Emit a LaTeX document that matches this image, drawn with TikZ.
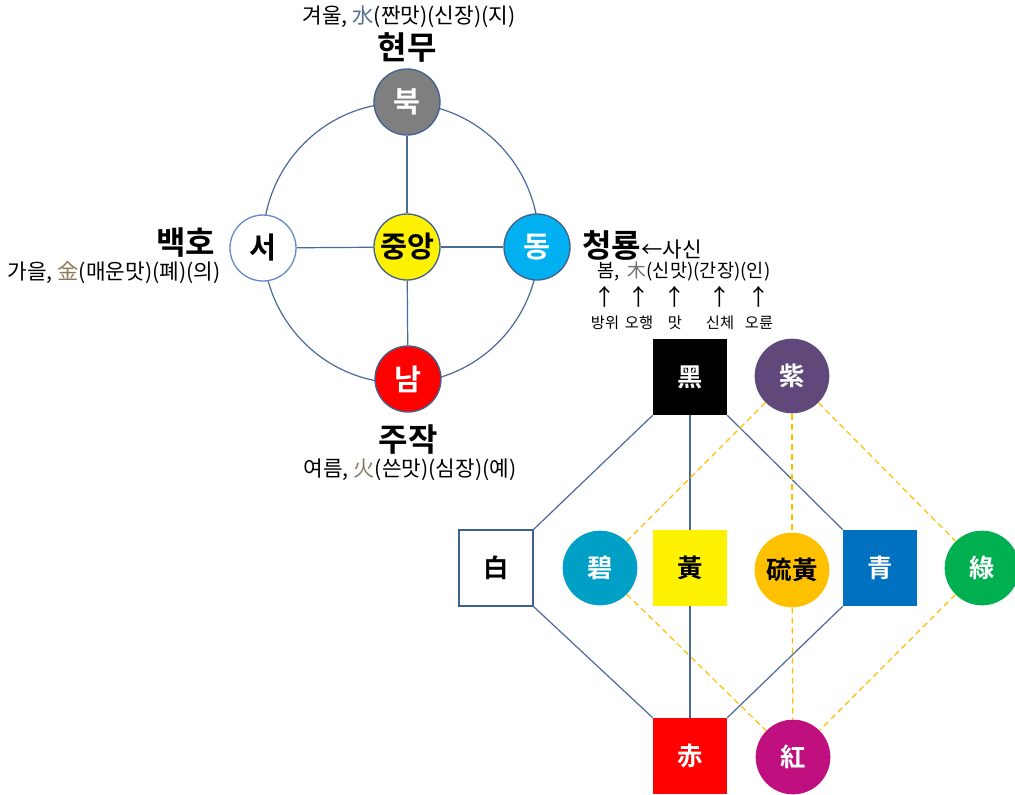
\documentclass[tikz,border=0pt]{standalone}
\usepackage{fontspec}
\setmainfont{Noto Sans CJK KR}[BoldFont={* Bold}]
\begin{document}
\begin{tikzpicture}[x=0.75pt,y=-0.75pt,
  conn/.style={draw=linec, line width=0.9pt},
  ydash/.style={draw=dashc, dashed, dash pattern=on 4.5pt off 3pt, line width=0.9pt},
  circ/.style={circle, minimum size=49.5pt, inner sep=0pt, draw=bordc, line width=1pt, font=\bfseries\fontsize{22}{22}\selectfont},
  lcirc/.style={circle, minimum size=56pt, inner sep=0pt, font=\bfseries\fontsize{19}{19}\selectfont},
  lsq/.style={rectangle, minimum width=55.5pt, minimum height=57pt, inner sep=0pt, font=\bfseries\fontsize{19}{19}\selectfont},
  big/.style={font=\bfseries\fontsize{24}{26}\selectfont},
  small/.style={font=\fontsize{16}{18}\selectfont, inner sep=0pt},
  tiny/.style={font=\fontsize{11.5}{13}\selectfont, inner sep=0pt}
]
\definecolor{linec}{HTML}{4A6A9A}
\definecolor{bordc}{HTML}{41628F}
\definecolor{dashc}{HTML}{FFC000}
\definecolor{cwater}{HTML}{5A7090}
\definecolor{cmetal}{HTML}{8A7A55}
\definecolor{cwood}{HTML}{707070}
\definecolor{cfire}{HTML}{8A7A6A}
\useasboundingbox (0,0) rectangle (1015,794);
% upper diagram
\draw[conn] (401,243) ellipse [x radius=138, y radius=140];
\node[circ, fill={rgb,255:red,127;green,127;blue,127}, text=white] (N) at (407,102) {북};
\node[circ, fill=yellow, text=black] (C) at (407,247) {중앙};
\node[circ, fill={rgb,255:red,0;green,176;blue,240}, text=white] (E) at (537,247) {동};
\node[circ, fill=red, text=white] (S) at (408,379) {남};
\node[circ, fill=white, text=black, draw={rgb,255:red,100;green,140;blue,200}] (W) at (263,248) {서};
\draw[conn] (N) -- (C);
\draw[conn] (C) -- (S);
\draw[conn] (W) -- (C);
\draw[conn] (C) -- (E);
% labels
\node[small] (tN) at (409,17) {겨울, \textcolor{cwater}{水}(짠맛)(신장)(지)};
\node[big] (nN) at (407,47) {현무};
\node[big, anchor=east] (nW) at (220,243) {백호};
\node[small] (tW) at (114,273) {가을, \textcolor{cmetal}{金}(매운맛)(폐)(의)};
\node[anchor=west, inner sep=0pt] (nE) at (582,245) {{\bfseries\fontsize{24}{26}\selectfont 청룡}{\fontsize{16}{18}\selectfont ←사신}};
\node[small, anchor=west, font=\fontsize{14}{16}\selectfont] (tE) at (597,271) {봄,\ \ \textcolor{cwood}{木}(신맛)(간장)(인)};
\foreach \x/\l [count=\i] in {605/방위,639/오행,675/맛,720/신체,759/오륜}{
  \node[small, font=\fontsize{17}{17}\selectfont] (ar\i) at (\x,297) {↑};
  \node[tiny] (lb\i) at (\x,323) {\l};
}
\node[big] (nS) at (408,440) {주작};
\node[small] (tS) at (410,470) {여름, \textcolor{cfire}{火}(쓴맛)(심장)(예)};
% lower diagram
\node[lsq, fill=black, text=white] (K) at (690,377) {黑};
\node[lcirc, fill={rgb,255:red,96;green,73;blue,122}, text=white] (P) at (792,376) {紫};
\node[lsq, fill=white, draw=bordc, line width=1pt, text=black] (Wh) at (496,568) {白};
\node[lcirc, fill={rgb,255:red,0;green,160;blue,198}, text=white] (B) at (600,568) {碧};
\node[lsq, fill=yellow, text=black] (Y) at (690,568) {黃};
\node[lcirc, fill={rgb,255:red,255;green,192;blue,0}, text=black] (O) at (792,570) {硫黃};
\node[lsq, fill={rgb,255:red,0;green,112;blue,192}, text=white] (Bl) at (880,568) {青};
\node[lcirc, fill={rgb,255:red,0;green,176;blue,80}, text=white] (G) at (982,568) {綠};
\node[lsq, fill=red, text=white] (R) at (690,756) {赤};
\node[lcirc, fill={rgb,255:red,192;green,16;blue,128}, text=white] (M) at (793,757) {紅};
\draw[conn] (K.south west) -- (Wh.north east);
\draw[conn] (K.south east) -- (Bl.north west);
\draw[conn] (K) -- (Y);
\draw[conn] (Y) -- (R);
\draw[conn] (Wh.south east) -- (R.north west);
\draw[conn] (Bl.south west) -- (R.north east);
\draw[ydash] (P) -- (B);
\draw[ydash] (P) -- (O);
\draw[ydash] (P) -- (G);
\draw[ydash] (B) -- (M);
\draw[ydash] (O) -- (M);
\draw[ydash] (G) -- (M);
\end{tikzpicture}
\end{document}
